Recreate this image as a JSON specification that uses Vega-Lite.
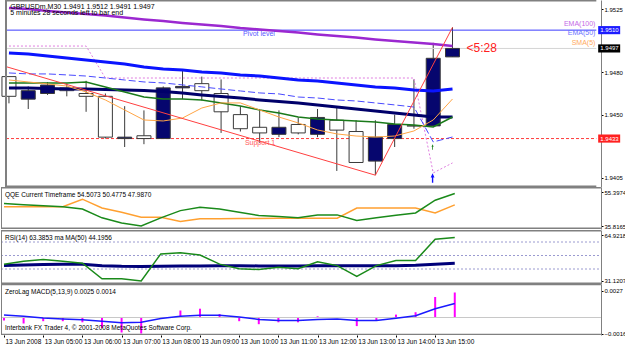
{
  "$schema": "https://vega.github.io/schema/vega-lite/v6.json",
  "padding": 0,
  "background": "#ffffff",
  "spacing": 0,
  "config": {
    "view": {"stroke": null},
    "font": "Liberation Sans",
    "axis": {"labelFont": "Liberation Sans", "labelFontSize": 6.5, "labelColor": "#000000", "tickColor": "#000000", "tickSize": 2, "labelPadding": 1, "domain": false, "grid": false, "labelOverlap": false, "labelFlush": false, "labelBound": false},
    "text": {"font": "Liberation Sans"}
  },
  "datasets": {
    "bars": [
      {"t":"2008-06-13T04:00:00Z","o":1.9477,"h":1.9477,"l":1.9458,"c":1.9463,"e100":1.95257,"e50":1.94938,"m2":1.94689,"md":1.94796,"g":1.94725,"s5":1.94746,"ch":1.94987,"q":48.81,"qs":46.93,"r":43.6,"rm":42.6,"hi":-0.0003,"sg":0.00026},
      {"t":"2008-06-13T04:30:00Z","o":1.9461,"h":1.947,"l":1.9454,"c":1.9467,"e100":1.9525,"e50":1.94931,"m2":1.94689,"md":1.94789,"g":1.94725,"s5":1.94732,"ch":1.94987,"q":48.06,"qs":46.93,"r":45.8,"rm":43.0,"hi":-0.0006,"sg":0.00012},
      {"t":"2008-06-13T05:00:00Z","o":1.9465,"h":1.9473,"l":1.9464,"c":1.9471,"e100":1.95236,"e50":1.94916,"m2":1.94686,"md":1.94789,"g":1.94725,"s5":1.94718,"ch":1.94987,"q":47.49,"qs":46.93,"r":47.0,"rm":43.3,"hi":-0.00037,"sg":-0.00004},
      {"t":"2008-06-13T05:30:00Z","o":1.9469,"h":1.9472,"l":1.9463,"c":1.9467,"e100":1.95225,"e50":1.94902,"m2":1.94682,"md":1.94782,"g":1.94725,"s5":1.94703,"ch":1.94987,"q":46.93,"qs":46.93,"r":45.8,"rm":43.5,"hi":-0.00037,"sg":-0.00015},
      {"t":"2008-06-13T06:00:00Z","o":1.9465,"h":1.9474,"l":1.9452,"c":1.9463,"e100":1.95215,"e50":1.94888,"m2":1.94682,"md":1.94774,"g":1.94732,"s5":1.94661,"ch":1.94987,"q":45.61,"qs":51.26,"r":44.3,"rm":43.6,"hi":-0.00048,"sg":-0.00022},
      {"t":"2008-06-13T06:30:00Z","o":1.9463,"h":1.9465,"l":1.9433,"c":1.9434,"e100":1.95204,"e50":1.94874,"m2":1.94679,"md":1.9476,"g":1.94696,"s5":1.94604,"ch":1.9476,"q":40.52,"qs":46.17,"r":32.8,"rm":42.5,"hi":-0.00104,"sg":-0.00037},
      {"t":"2008-06-13T07:00:00Z","o":1.9433,"h":1.9456,"l":1.9427,"c":1.9434,"e100":1.9519,"e50":1.9486,"m2":1.94675,"md":1.94746,"g":1.94661,"s5":1.94533,"ch":1.9476,"q":37.51,"qs":43.72,"r":32.8,"rm":42.0,"hi":-0.0015,"sg":-0.00052},
      {"t":"2008-06-13T07:30:00Z","o":1.9435,"h":1.9453,"l":1.9429,"c":1.9433,"e100":1.95176,"e50":1.94838,"m2":1.94672,"md":1.94732,"g":1.94625,"s5":1.94462,"ch":1.9476,"q":35.82,"qs":40.9,"r":31.12,"rm":41.9,"hi":-0.0016,"sg":-0.00048},
      {"t":"2008-06-13T08:00:00Z","o":1.9433,"h":1.947,"l":1.9433,"c":1.9469,"e100":1.95165,"e50":1.94824,"m2":1.94664,"md":1.94725,"g":1.94611,"s5":1.94455,"ch":1.9476,"q":40.52,"qs":40.9,"r":51.2,"rm":42.0,"hi":0.00002,"sg":-0.00011},
      {"t":"2008-06-13T08:30:00Z","o":1.9469,"h":1.9482,"l":1.9461,"c":1.947,"e100":1.95151,"e50":1.94817,"m2":1.94654,"md":1.94711,"g":1.94611,"s5":1.94476,"ch":1.9476,"q":44.67,"qs":38.45,"r":52.1,"rm":42.2,"hi":0.0007,"sg":0.00012},
      {"t":"2008-06-13T09:00:00Z","o":1.9472,"h":1.9477,"l":1.946,"c":1.9467,"e100":1.9514,"e50":1.94803,"m2":1.9464,"md":1.94697,"g":1.94604,"s5":1.94547,"ch":1.9476,"q":46.55,"qs":39.96,"r":50.3,"rm":42.3,"hi":0.00088,"sg":0.00023},
      {"t":"2008-06-13T09:30:00Z","o":1.9465,"h":1.9475,"l":1.9437,"c":1.9452,"e100":1.95129,"e50":1.94796,"m2":1.94629,"md":1.94682,"g":1.94583,"s5":1.94583,"ch":1.9476,"q":45.61,"qs":39.96,"r":43.6,"rm":42.4,"hi":0.00035,"sg":0.00023},
      {"t":"2008-06-13T10:00:00Z","o":1.945,"h":1.9456,"l":1.9438,"c":1.944,"e100":1.95115,"e50":1.94782,"m2":1.94618,"md":1.94668,"g":1.94561,"s5":1.94583,"ch":1.9476,"q":43.72,"qs":40.15,"r":40.2,"rm":42.4,"hi":-0.00037,"sg":0.00006},
      {"t":"2008-06-13T10:30:00Z","o":1.9441,"h":1.9454,"l":1.943,"c":1.9437,"e100":1.95105,"e50":1.94774,"m2":1.94604,"md":1.94654,"g":1.94533,"s5":1.94533,"ch":1.9476,"q":41.84,"qs":40.15,"r":39.6,"rm":42.3,"hi":-0.00067,"sg":-0.00019},
      {"t":"2008-06-13T11:00:00Z","o":1.9436,"h":1.9453,"l":1.9434,"c":1.9441,"e100":1.95094,"e50":1.9476,"m2":1.94593,"md":1.94647,"g":1.94512,"s5":1.94483,"ch":1.9476,"q":41.28,"qs":40.34,"r":41.3,"rm":42.3,"hi":-0.00048,"sg":-0.0003},
      {"t":"2008-06-13T11:30:00Z","o":1.9443,"h":1.9448,"l":1.9436,"c":1.9437,"e100":1.95083,"e50":1.94746,"m2":1.94583,"md":1.94625,"g":1.94483,"s5":1.94441,"ch":1.9476,"q":40.52,"qs":40.34,"r":40.2,"rm":42.3,"hi":-0.00048,"sg":-0.0003},
      {"t":"2008-06-13T12:00:00Z","o":1.9436,"h":1.9454,"l":1.9434,"c":1.9448,"e100":1.95069,"e50":1.94739,"m2":1.94569,"md":1.94618,"g":1.94469,"s5":1.94391,"ch":1.9476,"q":42.22,"qs":40.34,"r":45.4,"rm":42.4,"hi":0.00012,"sg":-0.00019},
      {"t":"2008-06-13T12:30:00Z","o":1.9446,"h":1.9455,"l":1.941,"c":1.9439,"e100":1.95058,"e50":1.94725,"m2":1.94554,"md":1.94604,"g":1.94462,"s5":1.94363,"ch":1.9476,"q":42.22,"qs":40.34,"r":42.5,"rm":42.5,"hi":0.00002,"sg":-0.00015},
      {"t":"2008-06-13T13:00:00Z","o":1.9438,"h":1.9446,"l":1.9416,"c":1.9416,"e100":1.95048,"e50":1.94711,"m2":1.9454,"md":1.94597,"g":1.94455,"s5":1.94348,"ch":1.9476,"q":39.02,"qs":46.17,"r":34.6,"rm":42.4,"hi":-0.00086,"sg":-0.0003},
      {"t":"2008-06-13T13:30:00Z","o":1.9417,"h":1.9446,"l":1.9407,"c":1.9434,"e100":1.95034,"e50":1.94697,"m2":1.94526,"md":1.94583,"g":1.94448,"s5":1.94341,"ch":1.9476,"q":40.52,"qs":46.17,"r":42.5,"rm":42.4,"hi":-0.0003,"sg":-0.0003},
      {"t":"2008-06-13T14:00:00Z","o":1.9433,"h":1.945,"l":1.9427,"c":1.9443,"e100":1.95023,"e50":1.94689,"m2":1.94512,"md":1.94569,"g":1.94434,"s5":1.94348,"ch":1.9476,"q":42.03,"qs":46.17,"r":46.3,"rm":42.5,"hi":0.00029,"sg":-0.00007},
      {"t":"2008-06-13T14:30:00Z","o":1.9442,"h":1.9475,"l":1.944,"c":1.9442,"e100":1.95012,"e50":1.94675,"m2":1.94498,"md":1.94554,"g":1.94427,"s5":1.94384,"ch":1.9476,"q":43.35,"qs":46.17,"r":46.3,"rm":42.8,"hi":0.00053,"sg":0.00018},
      {"t":"2008-06-13T15:00:00Z","o":1.9442,"h":1.9501,"l":1.9442,"c":1.949,"e100":1.95002,"e50":1.94668,"m2":1.94483,"md":1.94306,"g":1.94413,"s5":1.94462,"ch":1.94086,"q":50.69,"qs":43.35,"r":62.0,"rm":43.5,"hi":0.00205,"sg":0.00088},
      {"t":"2008-06-13T15:30:00Z","o":1.9491,"h":1.9512,"l":1.9491,"c":1.9497,"e100":1.94987,"e50":1.94682,"m2":1.94483,"md":1.94341,"g":1.94483,"s5":1.94611,"ch":1.94157,"q":54.51,"qs":47.99,"r":63.39,"rm":44.2,"hi":0.0025,"sg":0.0014}
    ],
    "trend": [
      {"t":"2008-06-13T03:56:00Z","p":1.9484},
      {"t":"2008-06-13T13:30:00Z","p":1.9407},
      {"t":"2008-06-13T15:30:00Z","p":1.9512}
    ],
    "levels": [
      {"k":"bid","p":1.9497},
      {"k":"pivot","p":1.951},
      {"k":"sup","p":1.9433}
    ],
    "arrows": [
      {"k":"buy","t":"2008-06-13T14:59:00Z","p":1.9405},
      {"k":"sig","t":"2008-06-13T14:59:00Z","p":1.9427}
    ],
    "rsilevels": [{"v":40},{"v":50},{"v":60}],
    "notes": [
      {"k":"hdr","t":"2008-06-13T04:02:00Z","p":1.95266,"s":"GBPUSDm,M30  1.9491 1.9512 1.9491 1.9497"},
      {"k":"hdr","t":"2008-06-13T04:02:00Z","p":1.95224,"s":"5 minutes 28 seconds left to bar end"},
      {"k":"pivot","t":"2008-06-13T10:04:00Z","p":1.95073,"s":"Pivot level"},
      {"k":"support","t":"2008-06-13T10:07:00Z","p":1.94299,"s":"Support 1"},
      {"k":"ema100","t":"2008-06-13T19:12:18Z","p":1.95144,"s":"EMA(100)"},
      {"k":"ema50","t":"2008-06-13T19:12:18Z","p":1.95078,"s":"EMA(50)"},
      {"k":"sma5","t":"2008-06-13T19:12:18Z","p":1.95011,"s":"SMA(5)"},
      {"k":"timer","t":"2008-06-13T15:51:48Z","p":1.94973,"s":"<5:28"},
      {"k":"qqe","t":"2008-06-13T04:01:30Z","p":53.67,"s":"QQE Current Timeframe 54.5073 50.4775 47.9870"},
      {"k":"rsi","t":"2008-06-13T04:01:30Z","p":62.96,"s":"RSI(14) 63.3853  ma MA(50) 44.1956"},
      {"k":"macd","t":"2008-06-13T04:01:30Z","p":0.00255,"s":"ZeroLag MACD(5,13,9) 0.0025 0.0014"},
      {"k":"copy","t":"2008-06-13T04:01:30Z","p":-0.00105,"s":"Interbank FX Trader 4, © 2001-2008 MetaQuotes Software Corp."}
    ]
  },
  "vconcat": [
    {
      "width": 625, "height": 187,
      "layer": [
        {"data":{"name":"bars"},"mark":{"type":"rule","color":"#3a3a3a","strokeWidth":1,"clip":true},
         "encoding":{"x":{"field":"t","type":"temporal","scale":{"type":"utc","domain":[1213329324000,1213386726000]},"axis":null,"title":null},
           "y":{"field":"l","type":"quantitative","scale":{"domain":[1.93986,1.95314],"zero":false,"nice":false},"title":null,
           "axis":{"orient":"right","offset":-25,"values":[1.9405,1.942,1.945,1.9465,1.948,1.9495,1.9525],"format":".4f","title":null,"domain":true,"domainColor":"#808080","domainWidth":1,"labelOverlap":false,"labelFontSize":6}},"y2":{"field":"h"}}},
        {"data":{"name":"levels"},"transform":[{"filter":"datum.k == 'bid'"}],"mark":{"type":"rule","color":"#d4d4d4","strokeWidth":1},
         "encoding":{"x":{"datum":1213329324000,"type":"temporal","scale":{"type":"utc","domain":[1213329324000,1213386726000]},"axis":null,"title":null},
           "x2":{"datum":1213384422000},
           "y":{"field":"p","type":"quantitative","scale":{"domain":[1.93986,1.95314],"zero":false,"nice":false},"title":null}}},
        {"data":{"name":"levels"},"transform":[{"filter":"datum.k == 'pivot'"}],"mark":{"type":"rule","color":"#3c3cff","strokeWidth":1},
         "encoding":{"x":{"datum":1213329324000,"type":"temporal","scale":{"type":"utc","domain":[1213329324000,1213386726000]},"axis":null,"title":null},
           "x2":{"datum":1213384422000},
           "y":{"field":"p","type":"quantitative","scale":{"domain":[1.93986,1.95314],"zero":false,"nice":false},"title":null}}},
        {"data":{"name":"levels"},"transform":[{"filter":"datum.k == 'sup'"}],"mark":{"type":"rule","color":"#ff3c3c","strokeWidth":1,"strokeDash":[3,2]},
         "encoding":{"x":{"datum":1213329324000,"type":"temporal","scale":{"type":"utc","domain":[1213329324000,1213386726000]},"axis":null,"title":null},
           "x2":{"datum":1213384422000},
           "y":{"field":"p","type":"quantitative","scale":{"domain":[1.93986,1.95314],"zero":false,"nice":false},"title":null}}},
        {"data":{"name":"bars"},"mark":{"type":"bar","size":14,"stroke":"#3a3a3a","strokeWidth":1,"clip":true},
         "encoding":{"x":{"field":"t","type":"temporal","scale":{"type":"utc","domain":[1213329324000,1213386726000]},"axis":null,"title":null},
           "y":{"field":"o","type":"quantitative","scale":{"domain":[1.93986,1.95314],"zero":false,"nice":false},"title":null},"y2":{"field":"c"},
           "fill":{"condition":{"test":"datum.c > datum.o","value":"#06066e"},"value":"#ffffff"}}},
        {"data":{"name":"bars"},"mark":{"type":"line","color":"#e07ee0","strokeWidth":1,"strokeDash":[2,2],"clip":true},
         "encoding":{"x":{"field":"t","type":"temporal","scale":{"type":"utc","domain":[1213329324000,1213386726000]},"axis":null,"title":null},
           "y":{"field":"ch","type":"quantitative","scale":{"domain":[1.93986,1.95314],"zero":false,"nice":false},"title":null}}},
        {"data":{"name":"bars"},"mark":{"type":"line","color":"#4a4aff","strokeWidth":1,"strokeDash":[7,3],"clip":true},
         "encoding":{"x":{"field":"t","type":"temporal","scale":{"type":"utc","domain":[1213329324000,1213386726000]},"axis":null,"title":null},
           "y":{"field":"md","type":"quantitative","scale":{"domain":[1.93986,1.95314],"zero":false,"nice":false},"title":null}}},
        {"data":{"name":"bars"},"mark":{"type":"line","color":"#9b28d0","strokeWidth":2.5,"clip":true},
         "encoding":{"x":{"field":"t","type":"temporal","scale":{"type":"utc","domain":[1213329324000,1213386726000]},"axis":null,"title":null},
           "y":{"field":"e100","type":"quantitative","scale":{"domain":[1.93986,1.95314],"zero":false,"nice":false},"title":null}}},
        {"data":{"name":"bars"},"mark":{"type":"line","color":"#0a14ff","strokeWidth":3,"clip":true},
         "encoding":{"x":{"field":"t","type":"temporal","scale":{"type":"utc","domain":[1213329324000,1213386726000]},"axis":null,"title":null},
           "y":{"field":"e50","type":"quantitative","scale":{"domain":[1.93986,1.95314],"zero":false,"nice":false},"title":null}}},
        {"data":{"name":"bars"},"mark":{"type":"line","color":"#00006a","strokeWidth":3,"clip":true},
         "encoding":{"x":{"field":"t","type":"temporal","scale":{"type":"utc","domain":[1213329324000,1213386726000]},"axis":null,"title":null},
           "y":{"field":"m2","type":"quantitative","scale":{"domain":[1.93986,1.95314],"zero":false,"nice":false},"title":null}}},
        {"data":{"name":"bars"},"mark":{"type":"line","color":"#1a7a1a","strokeWidth":1.5,"clip":true},
         "encoding":{"x":{"field":"t","type":"temporal","scale":{"type":"utc","domain":[1213329324000,1213386726000]},"axis":null,"title":null},
           "y":{"field":"g","type":"quantitative","scale":{"domain":[1.93986,1.95314],"zero":false,"nice":false},"title":null}}},
        {"data":{"name":"bars"},"mark":{"type":"line","color":"#ffa545","strokeWidth":1,"clip":true},
         "encoding":{"x":{"field":"t","type":"temporal","scale":{"type":"utc","domain":[1213329324000,1213386726000]},"axis":null,"title":null},
           "y":{"field":"s5","type":"quantitative","scale":{"domain":[1.93986,1.95314],"zero":false,"nice":false},"title":null}}},
        {"data":{"name":"trend"},"mark":{"type":"line","color":"#ff4040","strokeWidth":1,"clip":true},
         "encoding":{"x":{"field":"t","type":"temporal","scale":{"type":"utc","domain":[1213329324000,1213386726000]},"axis":null,"title":null},
           "y":{"field":"p","type":"quantitative","scale":{"domain":[1.93986,1.95314],"zero":false,"nice":false},"title":null}}},
        {"data":{"name":"arrows"},"transform":[{"filter":"datum.k == 'buy'"}],"mark":{"type":"point","shape":"arrow","filled":true,"color":"#1010ff","size":90,"opacity":1},
         "encoding":{"x":{"field":"t","type":"temporal","scale":{"type":"utc","domain":[1213329324000,1213386726000]},"axis":null,"title":null},
           "y":{"field":"p","type":"quantitative","scale":{"domain":[1.93986,1.95314],"zero":false,"nice":false},"title":null}}},
        {"data":{"name":"arrows"},"transform":[{"filter":"datum.k == 'sig'"}],"mark":{"type":"point","shape":"arrow","filled":true,"color":"#208020","size":30,"opacity":1},
         "encoding":{"x":{"field":"t","type":"temporal","scale":{"type":"utc","domain":[1213329324000,1213386726000]},"axis":null,"title":null},
           "y":{"field":"p","type":"quantitative","scale":{"domain":[1.93986,1.95314],"zero":false,"nice":false},"title":null}}},
        {"data":{"name":"notes"},"transform":[{"filter":"datum.k == 'hdr'"}],"mark":{"type":"text","align":"left","baseline":"middle","fontSize":7,"color":"#000000"},
         "encoding":{"x":{"field":"t","type":"temporal","scale":{"type":"utc","domain":[1213329324000,1213386726000]},"axis":null,"title":null},
           "y":{"field":"p","type":"quantitative","scale":{"domain":[1.93986,1.95314],"zero":false,"nice":false},"title":null},"text":{"field":"s"}}},
        {"data":{"name":"notes"},"transform":[{"filter":"datum.k == 'pivot'"}],"mark":{"type":"text","align":"left","baseline":"middle","fontSize":7,"color":"#5a5aff"},
         "encoding":{"x":{"field":"t","type":"temporal","scale":{"type":"utc","domain":[1213329324000,1213386726000]},"axis":null,"title":null},
           "y":{"field":"p","type":"quantitative","scale":{"domain":[1.93986,1.95314],"zero":false,"nice":false},"title":null},"text":{"field":"s"}}},
        {"data":{"name":"notes"},"transform":[{"filter":"datum.k == 'support'"}],"mark":{"type":"text","align":"left","baseline":"middle","fontSize":7,"color":"#ff5a5a"},
         "encoding":{"x":{"field":"t","type":"temporal","scale":{"type":"utc","domain":[1213329324000,1213386726000]},"axis":null,"title":null},
           "y":{"field":"p","type":"quantitative","scale":{"domain":[1.93986,1.95314],"zero":false,"nice":false},"title":null},"text":{"field":"s"}}},
        {"data":{"name":"notes"},"transform":[{"filter":"datum.k == 'ema100'"}],"mark":{"type":"text","align":"right","baseline":"middle","fontSize":7,"color":"#c46ae6"},
         "encoding":{"x":{"field":"t","type":"temporal","scale":{"type":"utc","domain":[1213329324000,1213386726000]},"axis":null,"title":null},
           "y":{"field":"p","type":"quantitative","scale":{"domain":[1.93986,1.95314],"zero":false,"nice":false},"title":null},"text":{"field":"s"}}},
        {"data":{"name":"notes"},"transform":[{"filter":"datum.k == 'ema50'"}],"mark":{"type":"text","align":"right","baseline":"middle","fontSize":7,"color":"#6a74ff"},
         "encoding":{"x":{"field":"t","type":"temporal","scale":{"type":"utc","domain":[1213329324000,1213386726000]},"axis":null,"title":null},
           "y":{"field":"p","type":"quantitative","scale":{"domain":[1.93986,1.95314],"zero":false,"nice":false},"title":null},"text":{"field":"s"}}},
        {"data":{"name":"notes"},"transform":[{"filter":"datum.k == 'sma5'"}],"mark":{"type":"text","align":"right","baseline":"middle","fontSize":7,"color":"#ffaa60"},
         "encoding":{"x":{"field":"t","type":"temporal","scale":{"type":"utc","domain":[1213329324000,1213386726000]},"axis":null,"title":null},
           "y":{"field":"p","type":"quantitative","scale":{"domain":[1.93986,1.95314],"zero":false,"nice":false},"title":null},"text":{"field":"s"}}},
        {"data":{"name":"notes"},"transform":[{"filter":"datum.k == 'timer'"}],"mark":{"type":"text","align":"left","baseline":"middle","fontSize":12,"color":"#ff2020"},
         "encoding":{"x":{"field":"t","type":"temporal","scale":{"type":"utc","domain":[1213329324000,1213386726000]},"axis":null,"title":null},
           "y":{"field":"p","type":"quantitative","scale":{"domain":[1.93986,1.95314],"zero":false,"nice":false},"title":null},"text":{"field":"s"}}},
        {"data":{"name":"levels"},"mark":{"type":"point","shape":"M-1,-0.37H1V0.37H-1Z","filled":true,"size":484,"opacity":1},
         "encoding":{
           "x":{"datum":1213385622000,"type":"temporal","scale":{"type":"utc","domain":[1213329324000,1213386726000]},"axis":null,"title":null},
           "y":{"field":"p","type":"quantitative","scale":{"domain":[1.93986,1.95314],"zero":false,"nice":false},"title":null},
           "fill":{"field":"k","type":"nominal","scale":{"domain":["bid","pivot","sup"],"range":["#000000","#1c1cff","#ff2020"]},"legend":null}}},
        {"data":{"name":"levels"},"mark":{"type":"text","align":"left","baseline":"middle","fontSize":6,"color":"#ffffff"},
         "encoding":{
           "x":{"datum":1213384794000,"type":"temporal","scale":{"type":"utc","domain":[1213329324000,1213386726000]},"axis":null,"title":null},
           "y":{"field":"p","type":"quantitative","scale":{"domain":[1.93986,1.95314],"zero":false,"nice":false},"title":null},
           "text":{"field":"p","type":"quantitative","format":".4f"}}},
        {"data":{"values":[{"v":1.93986},{"v":1.95314}]},"mark":{"type":"rule","color":"#808080","strokeWidth":3,"clip":true},
         "encoding":{"x":{"datum":1213329324000,"type":"temporal","scale":{"type":"utc","domain":[1213329324000,1213386726000]},"axis":null,"title":null},
           "x2":{"datum":1213384422000},
           "y":{"field":"v","type":"quantitative","scale":{"domain":[1.93986,1.95314],"zero":false,"nice":false},"title":null}}},
        {"data":{"values":[{"v":1213329324000}]},"mark":{"type":"rule","color":"#808080","strokeWidth":2,"clip":true},
         "encoding":{"x":{"field":"v","type":"temporal","scale":{"type":"utc","domain":[1213329324000,1213386726000]},"axis":null,"title":null}}}
      ]
    },
    {
      "width": 625, "height": 42,
      "layer": [
        {"data":{"name":"bars"},"mark":{"type":"line","color":"#ffa030","strokeWidth":1.5,"clip":true},
         "encoding":{"x":{"field":"t","type":"temporal","scale":{"type":"utc","domain":[1213329324000,1213386726000]},"axis":null,"title":null},
           "y":{"field":"qs","type":"quantitative","scale":{"domain":[34.09,58.28],"zero":false,"nice":false},"title":null,
           "axis":{"orient":"right","offset":-25,"values":[35.8165,55.3974],"format":".4f","title":null,"domain":true,"domainColor":"#808080","domainWidth":1,"labelOverlap":false,"labelFontSize":6}}}},
        {"data":{"name":"bars"},"mark":{"type":"line","color":"#1a8a1a","strokeWidth":1.5,"clip":true},
         "encoding":{"x":{"field":"t","type":"temporal","scale":{"type":"utc","domain":[1213329324000,1213386726000]},"axis":null,"title":null},
           "y":{"field":"q","type":"quantitative","scale":{"domain":[34.09,58.28],"zero":false,"nice":false},"title":null}}},
        {"data":{"name":"notes"},"transform":[{"filter":"datum.k == 'qqe'"}],"mark":{"type":"text","align":"left","baseline":"middle","fontSize":6.5,"color":"#000000"},
         "encoding":{"x":{"field":"t","type":"temporal","scale":{"type":"utc","domain":[1213329324000,1213386726000]},"axis":null,"title":null},
           "y":{"field":"p","type":"quantitative","scale":{"domain":[34.09,58.28],"zero":false,"nice":false},"title":null},"text":{"field":"s"}}},
        {"data":{"values":[{"v":34.09},{"v":58.28}]},"mark":{"type":"rule","color":"#808080","strokeWidth":3,"clip":true},
         "encoding":{"x":{"datum":1213329324000,"type":"temporal","scale":{"type":"utc","domain":[1213329324000,1213386726000]},"axis":null,"title":null},
           "x2":{"datum":1213384422000},
           "y":{"field":"v","type":"quantitative","scale":{"domain":[34.09,58.28],"zero":false,"nice":false},"title":null}}},
        {"data":{"values":[{"v":1213329324000}]},"mark":{"type":"rule","color":"#808080","strokeWidth":2,"clip":true},
         "encoding":{"x":{"field":"v","type":"temporal","scale":{"type":"utc","domain":[1213329324000,1213386726000]},"axis":null,"title":null}}}
      ]
    },
    {
      "width": 625, "height": 54,
      "layer": [
        {"data":{"name":"bars"},"mark":{"type":"line","color":"#00007a","strokeWidth":3,"clip":true},
         "encoding":{"x":{"field":"t","type":"temporal","scale":{"type":"utc","domain":[1213329324000,1213386726000]},"axis":null,"title":null},
           "y":{"field":"rm","type":"quantitative","scale":{"domain":[28.89,68.89],"zero":false,"nice":false},"title":null,
           "axis":{"orient":"right","offset":-25,"values":[31.1207,40,50,60,64.9218],"labelExpr":"datum.value == 40 || datum.value == 50 || datum.value == 60 ? format(datum.value, 'd') : format(datum.value, '.4f')","title":null,"domain":true,"domainColor":"#808080","domainWidth":1,"labelOverlap":false,"labelFontSize":6}}}},
        {"data":{"name":"rsilevels"},"mark":{"type":"rule","color":"#9a9ad0","strokeWidth":1,"strokeDash":[2,2]},
         "encoding":{"x":{"datum":1213329324000,"type":"temporal","scale":{"type":"utc","domain":[1213329324000,1213386726000]},"axis":null,"title":null},
           "x2":{"datum":1213384422000},
           "y":{"field":"v","type":"quantitative","scale":{"domain":[28.89,68.89],"zero":false,"nice":false},"title":null}}},
        {"data":{"name":"bars"},"mark":{"type":"line","color":"#1a8a1a","strokeWidth":1.5,"clip":true},
         "encoding":{"x":{"field":"t","type":"temporal","scale":{"type":"utc","domain":[1213329324000,1213386726000]},"axis":null,"title":null},
           "y":{"field":"r","type":"quantitative","scale":{"domain":[28.89,68.89],"zero":false,"nice":false},"title":null}}},
        {"data":{"name":"notes"},"transform":[{"filter":"datum.k == 'rsi'"}],"mark":{"type":"text","align":"left","baseline":"middle","fontSize":6.5,"color":"#000000"},
         "encoding":{"x":{"field":"t","type":"temporal","scale":{"type":"utc","domain":[1213329324000,1213386726000]},"axis":null,"title":null},
           "y":{"field":"p","type":"quantitative","scale":{"domain":[28.89,68.89],"zero":false,"nice":false},"title":null},"text":{"field":"s"}}},
        {"data":{"values":[{"v":28.89},{"v":68.89}]},"mark":{"type":"rule","color":"#808080","strokeWidth":3,"clip":true},
         "encoding":{"x":{"datum":1213329324000,"type":"temporal","scale":{"type":"utc","domain":[1213329324000,1213386726000]},"axis":null,"title":null},
           "x2":{"datum":1213384422000},
           "y":{"field":"v","type":"quantitative","scale":{"domain":[28.89,68.89],"zero":false,"nice":false},"title":null}}},
        {"data":{"values":[{"v":1213329324000}]},"mark":{"type":"rule","color":"#808080","strokeWidth":2,"clip":true},
         "encoding":{"x":{"field":"v","type":"temporal","scale":{"type":"utc","domain":[1213329324000,1213386726000]},"axis":null,"title":null}}}
      ]
    },
    {
      "width": 625, "height": 51,
      "layer": [
        {"data":{"name":"bars"},"mark":{"type":"rule","color":"#ff00ff","strokeWidth":2,"clip":true},
         "encoding":{"x":{"field":"t","type":"temporal","scale":{"type":"utc","domain":[1213329324000,1213386726000]},"title":null,
            "axis":{"orient":"bottom","title":null,"labelAlign":"left","labelOffset":1,"tickSize":2,"labelPadding":1,"labelOverlap":false,
              "values":[
                {"year":2008,"month":6,"date":13,"hours":4,"utc":true},{"year":2008,"month":6,"date":13,"hours":5,"utc":true},
                {"year":2008,"month":6,"date":13,"hours":6,"utc":true},{"year":2008,"month":6,"date":13,"hours":7,"utc":true},
                {"year":2008,"month":6,"date":13,"hours":8,"utc":true},{"year":2008,"month":6,"date":13,"hours":9,"utc":true},
                {"year":2008,"month":6,"date":13,"hours":10,"utc":true},{"year":2008,"month":6,"date":13,"hours":11,"utc":true},
                {"year":2008,"month":6,"date":13,"hours":12,"utc":true},{"year":2008,"month":6,"date":13,"hours":13,"utc":true},
                {"year":2008,"month":6,"date":13,"hours":14,"utc":true},{"year":2008,"month":6,"date":13,"hours":15,"utc":true}],
              "labelExpr":"utchours(datum.value) == 4 ? '13 Jun 2008' : '13 Jun ' + utcFormat(datum.value, '%H:%M')"}},
           "y":{"field":"hi","type":"quantitative","scale":{"domain":[-0.00175,0.00335],"zero":false,"nice":false},"title":null,
           "axis":{"orient":"right","offset":-25,"values":[-0.0016,0,0.0027],"labelExpr":"datum.value == 0 ? '0.00' : format(datum.value, '.4f')","title":null,"domain":true,"domainColor":"#808080","domainWidth":1,"labelOverlap":false,"labelFontSize":6}},"y2":{"datum":0}}},
        {"data":{"values":[{"v":0}]},"mark":{"type":"rule","color":"#c8c8c8","strokeWidth":1},
         "encoding":{"x":{"datum":1213329324000,"type":"temporal","scale":{"type":"utc","domain":[1213329324000,1213386726000]},"title":null},
           "x2":{"datum":1213384422000},
           "y":{"field":"v","type":"quantitative","scale":{"domain":[-0.00175,0.00335],"zero":false,"nice":false},"title":null}}},
        {"data":{"name":"bars"},"mark":{"type":"line","color":"#1a1aff","strokeWidth":1.5,"clip":true},
         "encoding":{"x":{"field":"t","type":"temporal","scale":{"type":"utc","domain":[1213329324000,1213386726000]},"title":null},
           "y":{"field":"sg","type":"quantitative","scale":{"domain":[-0.00175,0.00335],"zero":false,"nice":false},"title":null}}},
        {"data":{"name":"notes"},"transform":[{"filter":"datum.k == 'macd' || datum.k == 'copy'"}],"mark":{"type":"text","align":"left","baseline":"middle","fontSize":6.5,"color":"#000000"},
         "encoding":{"x":{"field":"t","type":"temporal","scale":{"type":"utc","domain":[1213329324000,1213386726000]},"title":null},
           "y":{"field":"p","type":"quantitative","scale":{"domain":[-0.00175,0.00335],"zero":false,"nice":false},"title":null},"text":{"field":"s"}}},
        {"data":{"values":[{"v":-0.00175},{"v":0.00335}]},"mark":{"type":"rule","color":"#808080","strokeWidth":2.5,"clip":true},
         "encoding":{"x":{"datum":1213329324000,"type":"temporal","scale":{"type":"utc","domain":[1213329324000,1213386726000]},"title":null},
           "x2":{"datum":1213384422000},
           "y":{"field":"v","type":"quantitative","scale":{"domain":[-0.00175,0.00335],"zero":false,"nice":false},"title":null}}},
        {"data":{"values":[{"v":1213329324000}]},"mark":{"type":"rule","color":"#808080","strokeWidth":2,"clip":true},
         "encoding":{"x":{"field":"v","type":"temporal","scale":{"type":"utc","domain":[1213329324000,1213386726000]},"title":null}}}
      ]
    }
  ]
}
